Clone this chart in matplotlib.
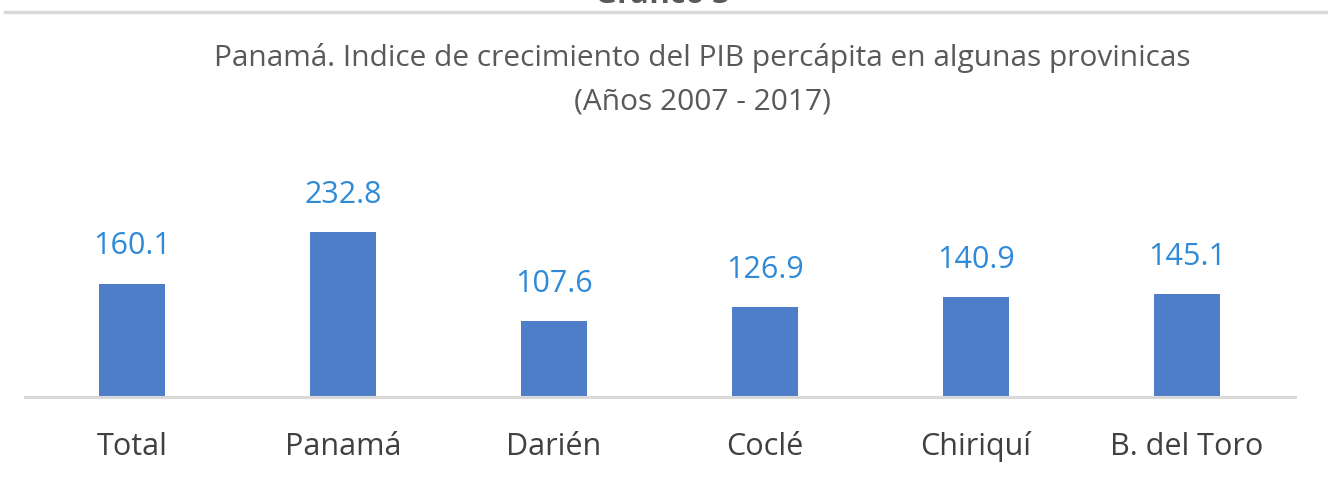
import matplotlib
matplotlib.use("Agg")
import matplotlib.pyplot as plt
from matplotlib.lines import Line2D

# data
categories = ["Total", "Panamá", "Darién", "Coclé", "Chiriquí", "B. del Toro"]
values = [160.1, 232.8, 107.6, 126.9, 140.9, 145.1]

BAR_COLOR = "#4f7ec9"
LABEL_COLOR = "#2f8ad8"
TEXT_COLOR = "#404040"
TITLE_COLOR = "#595959"
LINE_COLOR = "#d9d9d9"

plt.rcParams["font.family"] = ["Open Sans", "DejaVu Sans"]

fig = plt.figure(figsize=(13.28, 4.83), dpi=100)
fig.patch.set_facecolor("white")

ax = fig.add_axes([0.0188, 0.178, 0.956, 0.44])
x = list(range(len(categories)))
bars = ax.bar(x, values, width=0.31, color=BAR_COLOR, zorder=2)

ax.set_xlim(-0.507, 5.51)
ax.set_ylim(0, 300)

for rect, v in zip(bars, values):
    ax.annotate(f"{v:.1f}", xy=(rect.get_x() + rect.get_width() / 2, v),
                xytext=(0, 16), textcoords="offset points",
                ha="center", va="bottom", fontsize=22, color=LABEL_COLOR)

ax.set_xticks(x)
ax.set_xticklabels(categories, fontsize=22, color=TEXT_COLOR)
ax.tick_params(axis="x", length=0, pad=41.5)
for lbl in ax.get_xticklabels():
    lbl.set_verticalalignment("baseline")
ax.set_yticks([])
for side in ("top", "right", "left"):
    ax.spines[side].set_visible(False)
ax.spines["bottom"].set_color(LINE_COLOR)
ax.spines["bottom"].set_linewidth(2.2)
ax.set_facecolor("none")

# title block
fig.text(0.529, 1 - 58 / 483, "Panamá. Indice de crecimiento del PIB percápita en algunas provinicas",
         ha="center", va="center", fontsize=21.5, color=TITLE_COLOR)
fig.text(0.529, 1 - 102 / 483, "(Años 2007 - 2017)",
         ha="center", va="center", fontsize=21.5, color=TITLE_COLOR)

# cut-off heading and rule at the top
fig.text(0.4985, 1 - 3 / 483, "Gráfico 3", ha="center", va="baseline",
         fontsize=22, fontweight="bold", color=TITLE_COLOR)
fig.add_artist(Line2D([0.004, 1.0], [1 - 12 / 483, 1 - 12 / 483],
                      transform=fig.transFigure, color=LINE_COLOR, linewidth=2.5))

fig.savefig("out.png", dpi=100, facecolor="white")
